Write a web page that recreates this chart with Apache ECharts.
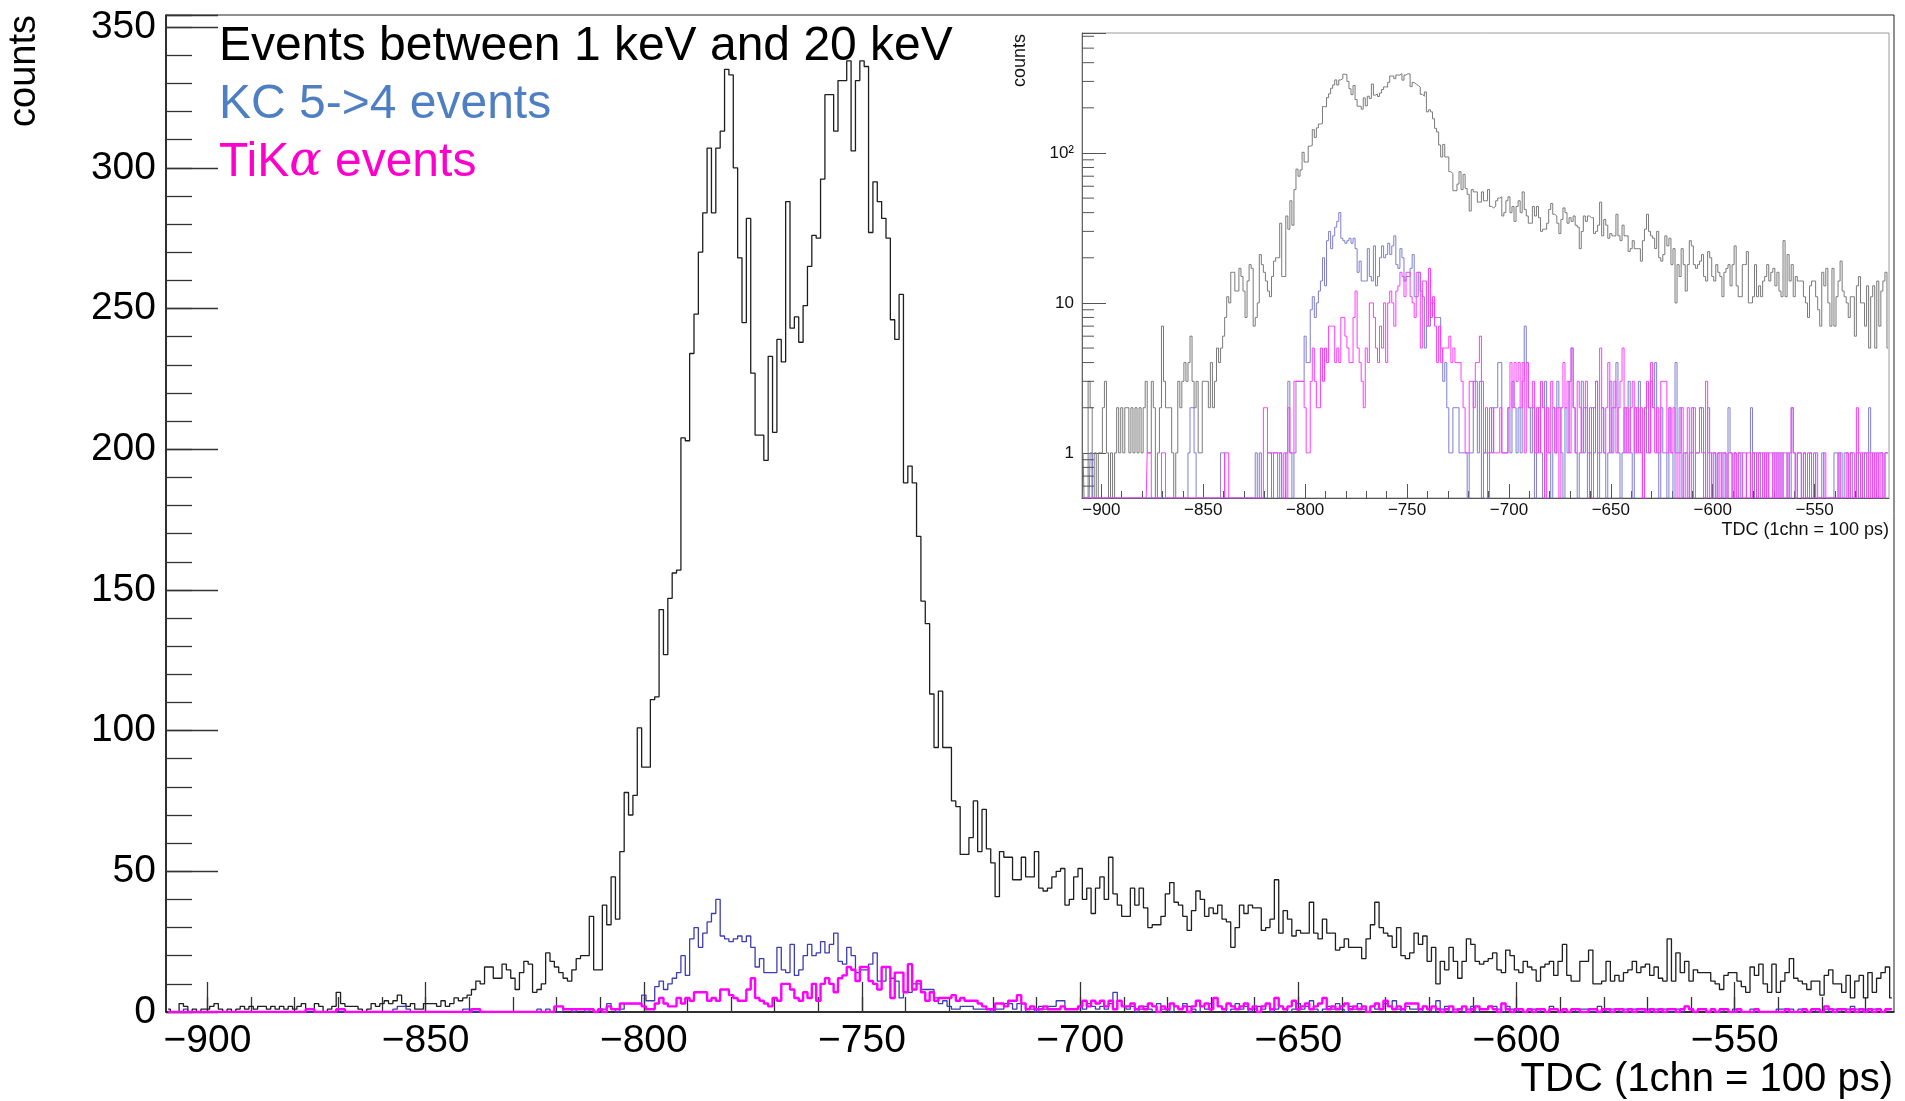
<!DOCTYPE html>
<html>
<head>
<meta charset="utf-8">
<script src="https://cdn.jsdelivr.net/npm/echarts@6/dist/echarts.min.js"></script>
<style>
  html, body { margin: 0; padding: 0; background: #fff; }
  #chart { width: 1905px; height: 1101px; }
</style>
</head>
<body>
<div id="chart"></div>
<script>
// ---------------- DATA ----------------
// bin centres run from firstBin upward in steps of one TDC channel
const firstBin = -909;

// Events between 1 keV and 20 keV (black)
const totalCounts = [
  1,0,0,3,2,0,1,0,1,1,            // -909..-900
  2,3,1,0,1,0,1,2,1,2,            // -899..-890
  1,2,2,1,2,1,2,1,2,1,            // -889..-880
  2,3,1,1,3,2,0,1,2,7,            // -879..-870
  3,2,2,2,1,0,1,3,2,3,            // -869..-860
  4,3,4,6,3,2,3,1,1,3,            // -859..-850
  3,3,2,4,2,3,5,4,5,6,            // -849..-840
  8,11,10,16,16,12,12,17,15,12,   // -839..-830
  8,14,18,17,7,8,10,21,18,16,     // -829..-820
  14,12,11,15,19,20,20,34,15,15,  // -819..-810
  38,31,48,33,57,78,70,77,101,87, // -809..-800
  87,111,112,143,127,147,156,157,204,203, // -799..-790
  234,248,270,284,307,284,307,313,335,333, // -789..-780
  300,268,245,282,227,205,205,196,233,206, // -779..-770
  239,231,288,243,247,238,251,265,276,275, // -769..-760
  296,326,326,313,331,331,338,306,331,338, // -759..-750
  336,277,295,288,282,275,246,239,255,188, // -749..-740
  194,188,169,146,138,113,94,114,94,94,    // -739..-730
  75,73,56,56,62,75,57,72,58,53,  // -729..-720
  41,57,55,55,47,47,55,48,48,57,  // -719..-710
  44,43,44,48,50,51,38,40,48,51,  // -709..-700
  40,44,35,44,48,40,55,42,38,34,  // -699..-690
  34,44,38,44,37,30,31,31,34,42,  // -689..-680
  46,39,38,34,29,36,43,40,34,37,  // -679..-670
  35,38,33,32,23,30,38,35,38,37,  // -669..-660
  37,29,30,33,47,28,36,33,27,29,  // -659..-650
  28,28,39,28,26,33,28,28,22,23,  // -649..-640
  26,23,23,23,19,26,31,39,30,28,  // -639..-630
  27,23,30,20,19,21,28,24,27,18,  // -629..-620
  23,10,18,15,23,18,12,18,26,24,  // -619..-610
  18,17,18,19,21,15,14,22,20,15,  // -609..-600
  14,18,16,15,11,16,17,18,13,18,  // -599..-590
  24,13,11,11,18,18,22,10,10,11,  // -589..-580
  18,11,13,11,14,15,18,14,16,17,  // -579..-570
  13,16,12,11,26,11,21,14,18,11,  // -569..-560
  15,14,14,14,11,10,8,13,14,14,   // -559..-550
  11,9,7,16,13,17,10,7,17,7,      // -549..-540
  11,14,19,12,11,10,8,11,11,6,    // -539..-530
  13,15,10,10,7,13,5,11,13,5,     // -529..-520
  14,7,12,14,16,5                 // -519..-514
];

// KC 5->4 events (blue)
const kcCounts = [
  0,0,0,0,1,0,0,0,0,0,
  0,0,0,0,0,0,0,0,0,0,
  0,0,0,0,0,0,0,0,0,0,
  0,0,0,0,0,0,0,0,0,0,
  0,0,0,0,0,0,0,0,0,0,
  0,0,1,2,2,1,0,0,0,0,
  0,0,0,0,0,0,0,0,1,1,
  0,0,0,0,0,0,0,0,0,0,
  0,0,0,0,0,1,0,1,0,0,
  0,1,1,0,1,1,0,1,0,0,
  1,3,1,0,1,3,3,3,3,6,
  4,4,9,11,8,10,12,14,20,13,
  26,30,23,28,32,35,40,27,26,25,
  26,27,25,27,23,16,19,14,14,14,
  23,15,14,24,13,15,20,24,20,21,
  25,21,24,28,18,17,23,20,14,15,
  15,17,21,11,11,16,12,11,5,7,
  7,10,10,8,8,8,5,3,4,2,
  1,1,2,2,2,1,1,1,1,0,
  1,1,3,3,1,3,0,1,1,0,
  2,1,2,2,4,4,1,1,1,2,
  1,3,2,1,2,1,3,7,4,2,
  1,2,0,1,2,1,0,3,1,1,
  0,2,1,3,2,1,0,2,1,3,
  5,2,1,0,1,3,1,2,0,1,
  2,1,3,0,1,2,1,0,1,3,
  1,2,4,1,0,1,2,1,3,1,
  0,2,1,3,1,0,2,1,1,3,
  2,4,1,0,2,1,1,0,2,1,
  0,4,1,2,0,1,1,0,1,2,
  0,1,1,2,2,1,0,2,1,0,
  1,0,1,1,0,1,0,2,1,0,
  1,0,1,0,1,1,0,0,2,1,
  0,1,1,0,1,0,1,0,0,1,
  0,1,0,1,0,0,1,0,2,1,
  0,1,1,0,1,0,0,1,0,1,
  0,0,0,1,0,0,0,0,0,1,
  1,0,1,0,1,1,0,1,0,0,
  1,0,1,0,1,1,2,1,0,1,
  0,1,1,0,1,1
];

// TiKα events (magenta)
const tiCounts = [
  0,0,0,0,0,0,0,0,0,0,
  0,0,0,0,0,0,0,0,0,0,
  0,0,0,0,0,0,0,0,0,0,
  0,0,1,1,0,0,0,0,0,1,
  1,0,0,0,0,0,0,0,0,0,
  0,0,0,0,0,0,0,0,0,0,
  0,0,0,0,0,0,0,0,0,0,
  1,1,0,0,0,0,0,0,0,0,
  0,0,0,0,0,0,0,0,0,2,
  2,1,1,1,1,1,1,1,0,1,
  0,2,1,1,3,3,3,3,3,2,
  1,1,3,5,3,2,2,5,3,5,
  4,7,7,7,4,5,4,8,8,6,
  5,4,4,8,12,5,4,3,2,5,
  4,10,10,8,5,4,7,5,10,4,
  10,12,10,7,12,13,16,15,11,16,
  16,11,10,8,16,16,5,14,14,7,
  17,8,11,7,4,7,4,5,5,5,
  6,4,5,4,4,4,3,2,1,1,
  3,3,2,4,4,6,3,1,2,1,
  1,2,1,1,1,2,1,1,1,2,
  4,2,4,3,4,2,4,1,4,2,
  2,3,1,2,1,3,2,0,2,1,
  3,2,1,2,0,2,4,2,3,1,
  5,2,1,3,2,1,2,3,1,2,
  0,2,3,1,5,2,1,2,4,1,
  2,3,1,2,3,5,1,2,1,2,
  3,1,2,1,2,0,2,3,1,4,
  2,1,2,1,3,3,3,1,2,1,
  2,1,0,1,2,0,1,2,0,1,
  2,1,1,2,1,0,3,1,0,1,
  1,0,1,0,1,1,0,1,1,0,
  1,0,1,1,0,0,1,1,0,1,
  1,0,1,1,0,1,0,1,1,0,
  1,0,1,0,1,1,0,1,2,1,
  0,1,1,0,1,0,1,1,0,0,
  1,0,0,0,1,0,0,0,0,0,
  0,1,0,0,0,1,0,1,1,0,
  2,1,0,1,1,0,1,0,1,0,
  1,0,1,0,1,1
];

// axis settings
const mainYMax = 354.3;
const mainMajorStep = 50, mainMinorStep = 10;
const insetYMin = 0.5, insetYMax = 631;
const insetDecadeLabels = {1: '1', 10: '10', 100: '10\u00B2'};
const logMinorTicks = [0.6,0.7,0.8,0.9, 2,3,4,5,6,7,8,9, 20,30,40,50,60,70,80,90, 200,300,400,500,600];

// ---------------- BUILD ----------------
const categories = totalCounts.map((_, i) => String(firstBin + i));
const onLog = arr => arr.map(v => (v > 0 ? v : insetYMin));
const minus = s => String(s).replace('-', '\u2212');
const FONT = 'Liberation Sans, Arial, Helvetica, sans-serif';

const isMajor = (i, v) => Number(v) % mainMajorStep === 0;
const isMinor = (i, v) => Number(v) % mainMinorStep === 0;

const chart = echarts.init(document.getElementById('chart'), null, {renderer: 'canvas'});

const option = {
  animation: false,
  backgroundColor: '#ffffff',
  grid: [
    {left: 166, right: 11, top: 15, bottom: 89, containLabel: false, outerBoundsMode: 'none',
     show: true, borderColor: '#222', borderWidth: 1, backgroundColor: 'transparent'},
    {left: 1082, right: 16, top: 33, bottom: 603, containLabel: false, outerBoundsMode: 'none',
     show: true, borderColor: '#9a9a9a', borderWidth: 1, backgroundColor: '#ffffff'}
  ],
  xAxis: [
    { // main, major ticks + labels
      type: 'category', gridIndex: 0, data: categories, boundaryGap: true, position: 'bottom',
      axisLine: {show: true, lineStyle: {color: '#111', width: 1.5}},
      axisTick: {show: true, inside: true, length: 30, alignWithLabel: true, interval: isMajor,
                 lineStyle: {color: '#333', width: 1.3}},
      axisLabel: {show: true, interval: isMajor, formatter: minus, fontSize: 39, fontFamily: FONT,
                  color: '#000', margin: 10},
      splitLine: {show: false}
    },
    { // main, minor ticks
      type: 'category', gridIndex: 0, data: categories, boundaryGap: true, position: 'bottom',
      axisLine: {show: false},
      axisTick: {show: true, inside: true, length: 15, alignWithLabel: true, interval: isMinor,
                 lineStyle: {color: '#333', width: 1.3}},
      axisLabel: {show: false}, splitLine: {show: false}
    },
    { // inset, major
      type: 'category', gridIndex: 1, data: categories, boundaryGap: true, position: 'bottom',
      axisLine: {show: true, lineStyle: {color: '#555', width: 1}},
      axisTick: {show: true, inside: true, length: 14, alignWithLabel: true, interval: isMajor,
                 lineStyle: {color: '#555', width: 1}},
      axisLabel: {show: true, interval: isMajor, formatter: minus, fontSize: 17, fontFamily: FONT,
                  color: '#111', margin: 4},
      splitLine: {show: false}
    },
    { // inset, minor
      type: 'category', gridIndex: 1, data: categories, boundaryGap: true, position: 'bottom',
      axisLine: {show: false},
      axisTick: {show: true, inside: true, length: 7, alignWithLabel: true, interval: isMinor,
                 lineStyle: {color: '#555', width: 1}},
      axisLabel: {show: false}, splitLine: {show: false}
    }
  ],
  yAxis: [
    {
      type: 'value', gridIndex: 0, min: 0, max: mainYMax, interval: mainMajorStep, position: 'left',
      axisLine: {show: true, lineStyle: {color: '#111', width: 1.5}},
      axisTick: {show: true, inside: true, length: 52, lineStyle: {color: '#333', width: 1.3}},
      axisLabel: {show: true, fontSize: 39, fontFamily: FONT, color: '#000', margin: 10,
                  formatter: v => (Math.abs(v % mainMajorStep) < 1e-6 ? String(v) : '')},
      splitLine: {show: false}
    },
    {
      type: 'value', gridIndex: 0, min: 0, max: mainYMax, interval: mainMinorStep, position: 'left',
      axisLine: {show: false},
      axisTick: {show: true, inside: true, length: 26, lineStyle: {color: '#333', width: 1.3}},
      axisLabel: {show: false}, splitLine: {show: false}
    },
    {
      type: 'log', logBase: 10, gridIndex: 1, min: insetYMin, max: insetYMax, position: 'left',
      axisLine: {show: true, lineStyle: {color: '#666', width: 1}},
      axisTick: {show: true, inside: true, length: 24, lineStyle: {color: '#555', width: 1}},
      axisLabel: {show: true, fontSize: 17, fontFamily: FONT, color: '#111', margin: 8,
                  formatter: v => {
                    const r = Math.round(v);
                    return (Math.abs(v - r) < 1e-6 && insetDecadeLabels[r]) ? insetDecadeLabels[r] : '';
                  }},
      splitLine: {show: false}, minorTick: {show: false}
    }
  ],
  series: [
    {name: 'Events between 1 keV and 20 keV', type: 'line', step: 'middle', xAxisIndex: 0, yAxisIndex: 0,
     data: totalCounts, showSymbol: false, symbol: 'none', lineStyle: {color: '#1e1e1e', width: 1.3}, z: 2},
    {name: 'KC 5->4 events', type: 'line', step: 'middle', xAxisIndex: 0, yAxisIndex: 0,
     data: kcCounts, showSymbol: false, symbol: 'none', lineStyle: {color: '#3c3cb4', width: 1.3}, z: 3},
    {name: 'TiKα events', type: 'line', step: 'middle', xAxisIndex: 0, yAxisIndex: 0,
     data: tiCounts, showSymbol: false, symbol: 'none', lineStyle: {color: '#ff00ff', width: 2.4}, z: 4},

    {type: 'line', step: 'middle', xAxisIndex: 2, yAxisIndex: 2, data: onLog(totalCounts),
     showSymbol: false, symbol: 'none', lineStyle: {color: '#7a7a7a', width: 1}, z: 12},
    {type: 'line', step: 'middle', xAxisIndex: 2, yAxisIndex: 2, data: onLog(kcCounts),
     showSymbol: false, symbol: 'none', lineStyle: {color: '#7e7ed2', width: 1}, z: 13},
    {type: 'line', step: 'middle', xAxisIndex: 2, yAxisIndex: 2, data: onLog(tiCounts),
     showSymbol: false, symbol: 'none', lineStyle: {color: '#ff3cff', width: 1}, z: 14},
    { // minor ticks of the log axis (2..9 x 10^n)
      type: 'custom', xAxisIndex: 2, yAxisIndex: 2, silent: true, z: 15,
      data: logMinorTicks.map(t => [0, t]),
      renderItem: (params, api) => {
        const p = api.coord([0, api.value(1)]);
        const x0 = params.coordSys.x;
        return {type: 'line', shape: {x1: x0, y1: p[1], x2: x0 + 12, y2: p[1]},
                style: {stroke: '#555', lineWidth: 1}};
      }
    }
  ],
  graphic: [
    {type: 'text', x: 24.5, y: 15, rotation: Math.PI / 2, z: 50,
     style: {text: 'counts', fontSize: 38, fontFamily: FONT, fill: '#000', align: 'right', verticalAlign: 'middle'}},
    {type: 'text', x: 1893, y: 1080, z: 50,
     style: {text: 'TDC (1chn = 100 ps)', fontSize: 40, fontFamily: FONT, fill: '#000', align: 'right', verticalAlign: 'middle'}},
    {type: 'text', x: 219, y: 47, z: 50,
     style: {text: 'Events between 1 keV and 20 keV', fontSize: 48, fontFamily: FONT, fill: '#000', align: 'left', verticalAlign: 'middle'}},
    {type: 'text', x: 219, y: 105, z: 50,
     style: {text: 'KC 5->4 events', fontSize: 48, fontFamily: FONT, fill: '#4f7fc3', align: 'left', verticalAlign: 'middle'}},
    {type: 'text', x: 219, y: 163, z: 50,
     style: {text: '{a|TiK}{b|\u03B1}{a| events}', align: 'left', verticalAlign: 'middle',
             rich: {a: {fontSize: 48, fontFamily: FONT, fill: '#ff00cc', color: '#ff00cc'},
                    b: {fontSize: 48, fontFamily: 'DejaVu Serif, serif', fontStyle: 'italic', fill: '#ff00cc', color: '#ff00cc'}}}},
    {type: 'text', x: 1020.5, y: 34, rotation: Math.PI / 2, z: 50,
     style: {text: 'counts', fontSize: 18, fontFamily: FONT, fill: '#111', align: 'right', verticalAlign: 'middle'}},
    {type: 'text', x: 1889, y: 530, z: 50,
     style: {text: 'TDC (1chn = 100 ps)', fontSize: 18, fontFamily: FONT, fill: '#111', align: 'right', verticalAlign: 'middle'}}
  ]
};

chart.setOption(option);
</script>
</body>
</html>
